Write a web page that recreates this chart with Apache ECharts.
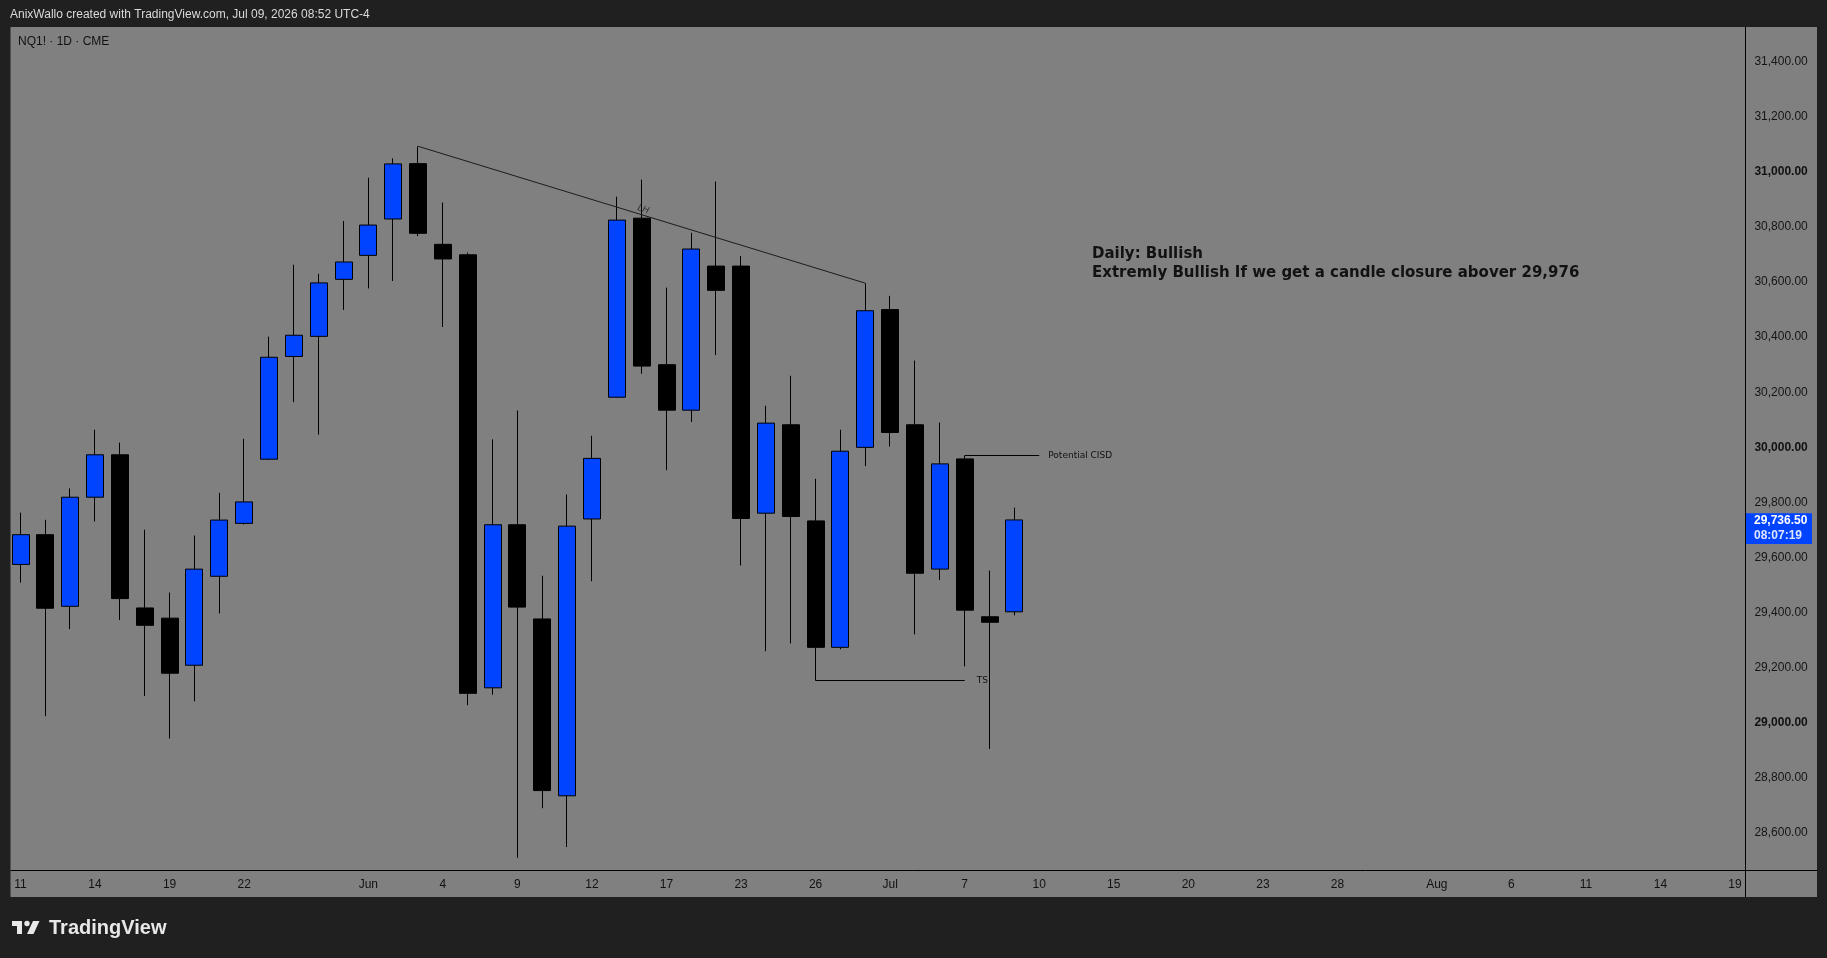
<!DOCTYPE html>
<html><head><meta charset="utf-8">
<script src="https://cdn.jsdelivr.net/npm/echarts@6/dist/echarts.min.js"></script>
<style>html,body{margin:0;padding:0;background:#202020;overflow:hidden}#c{width:1827px;height:958px}</style>
</head><body><div id="c"></div>
<script>
// ---- categories (trading days, incl. future empty days on the axis)
const dates = [
 '2026-05-11','2026-05-12','2026-05-13','2026-05-14','2026-05-15','2026-05-18','2026-05-19','2026-05-20','2026-05-21','2026-05-22',
 '2026-05-26','2026-05-27','2026-05-28','2026-05-29','2026-06-01','2026-06-02','2026-06-03','2026-06-04','2026-06-05','2026-06-08',
 '2026-06-09','2026-06-10','2026-06-11','2026-06-12','2026-06-15','2026-06-16','2026-06-17','2026-06-18','2026-06-22','2026-06-23',
 '2026-06-24','2026-06-25','2026-06-26','2026-06-29','2026-06-30','2026-07-01','2026-07-02','2026-07-06','2026-07-07','2026-07-08',
 '2026-07-09','2026-07-10','2026-07-13','2026-07-14','2026-07-15','2026-07-16','2026-07-17','2026-07-20','2026-07-21','2026-07-22',
 '2026-07-23','2026-07-24','2026-07-27','2026-07-28','2026-07-29','2026-07-30','2026-07-31','2026-08-03','2026-08-04','2026-08-05',
 '2026-08-06','2026-08-07','2026-08-10','2026-08-11','2026-08-12','2026-08-13','2026-08-14','2026-08-17','2026-08-18','2026-08-19'
];
// ---- OHLC series (NQ1! daily)
const opens  = [29575,29683,29423,29819,29973,29417,29380,29209,29532,29724,29957,30330,30403,30610,30697,30829,31030,30737,30699,29127,29719,29377,28735,29740,30182,30832,30300,30135,30658,30658,29761,30082,29733,29274,30000,30500,30082,29558,29958,29385,29403];
const highs  = [29763,29737,29851,30064,30017,29701,29473,29680,29835,30031,30402,30663,30630,30822,30979,31049,31093,30889,30707,30029,30134,29534,29829,30042,30910,30972,30580,30779,30965,30695,30151,30260,29886,30064,30596,30550,30315,30090,29970,29553,29781];
const lows   = [29509,29024,29340,29731,29373,29097,28943,29078,29397,29720,29955,30164,30046,30499,30577,30604,30767,30437,29064,29102,28510,28690,28549,29514,30180,30267,29917,30092,30335,29571,29260,29288,29153,29267,29932,30003,29321,29518,29205,28905,29390];
const closes = [29683,29416,29819,29973,29451,29354,29180,29558,29736,29802,30327,30407,30597,30673,30807,31029,30777,30684,29107,29719,29420,28754,29714,29960,30825,30295,30135,30720,30570,29742,30088,29749,29274,29986,30496,30054,29543,29940,29409,29365,29736.5];
// ---- tick labels
const xTickDates = ['2026-05-11','2026-05-14','2026-05-19','2026-05-22','2026-06-01','2026-06-04','2026-06-09','2026-06-12','2026-06-17','2026-06-23','2026-06-26','2026-07-01','2026-07-07','2026-07-10','2026-07-15','2026-07-20','2026-07-23','2026-07-28','2026-08-03','2026-08-06','2026-08-11','2026-08-14','2026-08-19'];
const xTickTexts = ['11','14','19','22','Jun','4','9','12','17','23','26','Jul','7','10','15','20','23','28','Aug','6','11','14','19'];
const priceTicks = [28600,28800,29000,29200,29400,29600,29800,30000,30200,30400,30600,30800,31000,31200,31400];
// ---- drawings
const trendStart = ['2026-06-03', 31093];
const trendEnd   = ['2026-06-30', 30596];
const trendText  = 'LH';
const tsLine     = ['2026-06-26', '2026-07-07', 29153];
const tsText     = 'TS';
const cisdLine   = ['2026-07-07', '2026-07-10', 29970];
const cisdText   = 'Potential CISD';
const noteLines  = ['Daily: Bullish', 'Extremly Bullish If we get a candle closure abover 29,976'];
const headerText = 'AnixWallo created with TradingView.com, Jul 09, 2026 08:52 UTC-4';
const symbolText = 'NQ1! \u00b7 1D \u00b7 CME';
const countdownText = '08:07:19';

const UI = 'Liberation Sans, Arial, sans-serif';
const BLUE = '#0044ff';
const fmtPrice = v => v.toLocaleString('en-US', {minimumFractionDigits: 2, maximumFractionDigits: 2});
const tickMap = {};
xTickDates.forEach((d, i) => { tickMap[d] = xTickTexts[i]; });
const candles = opens.map((o, i) => [o, closes[i], lows[i], highs[i]]);

const chart = echarts.init(document.getElementById('c'), null, {width: 1827, height: 958});

function frameElements() {
  return [
    {type: 'rect', z: 100, silent: true, shape: {x: 0, y: 0, width: 1827, height: 27}, style: {fill: '#202020'}},
    {type: 'rect', z: 100, silent: true, shape: {x: 0, y: 0, width: 10.5, height: 958}, style: {fill: '#202020'}},
    {type: 'rect', z: 100, silent: true, shape: {x: 1817, y: 0, width: 10, height: 958}, style: {fill: '#202020'}},
    {type: 'rect', z: 100, silent: true, shape: {x: 0, y: 897, width: 1827, height: 61}, style: {fill: '#202020'}},
    {type: 'line', z: 100, silent: true, shape: {x1: 10.5, y1: 870.5, x2: 1817, y2: 870.5}, style: {stroke: '#000', lineWidth: 1}},
    {type: 'line', z: 100, silent: true, shape: {x1: 1745.5, y1: 27, x2: 1745.5, y2: 897}, style: {stroke: '#000', lineWidth: 1}},
    {type: 'text', z: 101, silent: true, x: 10, y: 15, style: {text: headerText, fill: '#dadada', font: '12px ' + UI, verticalAlign: 'middle'}},
    {type: 'text', z: 101, silent: true, x: 18, y: 42, style: {text: symbolText, fill: '#111', font: '12px ' + UI, verticalAlign: 'middle'}},
    {type: 'text', z: 101, silent: true, x: 1092, y: 244, style: {text: noteLines.join('\n'), fill: '#121212', font: 'bold 15px DejaVu Sans', lineHeight: 19.5, verticalAlign: 'top'}},
    // TradingView logo
    {type: 'polygon', z: 101, silent: true, shape: {points: [[12,921],[22,921],[22,934],[17,934],[17,926],[12,926]]}, style: {fill: '#e8e8e8'}},
    {type: 'circle', z: 101, silent: true, shape: {cx: 27, cy: 923.5, r: 2.7}, style: {fill: '#e8e8e8'}},
    {type: 'polygon', z: 101, silent: true, shape: {points: [[33,921],[39.5,921],[33.5,934],[27,934]]}, style: {fill: '#e8e8e8'}},
    {type: 'text', z: 101, silent: true, x: 49, y: 928, style: {text: 'TradingView', fill: '#e8e8e8', font: 'bold 20px ' + UI, verticalAlign: 'middle'}}
  ];
}

chart.setOption({
  animation: false,
  backgroundColor: '#808080',
  grid: {left: 8.08, right: 79.6, top: 27, bottom: 87.7, containLabel: false},
  xAxis: {
    type: 'category', data: dates, boundaryGap: true,
    axisLine: {show: false}, axisTick: {show: false}, splitLine: {show: false},
    axisLabel: {
      interval: (idx, val) => tickMap[val] !== undefined,
      formatter: (val) => tickMap[val] || '',
      color: '#111', fontFamily: UI, fontSize: 12, margin: 8
    }
  },
  yAxis: {
    type: 'value', position: 'right', scale: true,
    min: 28464.6, max: 31526,
    axisLine: {show: false}, axisTick: {show: false}, splitLine: {show: false},
    axisLabel: {
      customValues: priceTicks,
      formatter: v => (v % 1000 === 0 ? '{b|' + fmtPrice(v) + '}' : fmtPrice(v)),
      rich: {b: {fontWeight: 'bold', color: '#111', fontFamily: UI, fontSize: 12}},
      color: '#151515', fontFamily: UI, fontSize: 12, margin: 7, align: 'left'
    }
  },
  series: [{
    type: 'candlestick',
    data: candles,
    barWidth: 17.5,
    itemStyle: {color: BLUE, color0: '#000', borderColor: '#000', borderColor0: '#000', borderWidth: 1},
    markLine: {
      silent: true, symbol: ['none', 'none'], animation: false,
      data: [
        [{coord: trendStart, lineStyle: {color: '#1c1c1c', width: 1, type: 'solid'},
          label: {show: true, position: 'middle', formatter: trendText, color: '#333', fontSize: 9, fontFamily: 'DejaVu Sans', fontStyle: 'italic', distance: 1}},
         {coord: trendEnd}],
        [{coord: [tsLine[0], tsLine[2]], lineStyle: {color: '#000', width: 1, type: 'solid'},
          label: {show: true, position: 'end', formatter: tsText, color: '#111', fontSize: 9, fontFamily: 'DejaVu Sans', distance: 12}},
         {coord: [tsLine[1], tsLine[2]]}],
        [{coord: [cisdLine[0], cisdLine[2]], lineStyle: {color: '#000', width: 1, type: 'solid'},
          label: {show: true, position: 'end', formatter: cisdText, color: '#111', fontSize: 9, fontFamily: 'DejaVu Sans', distance: 9}},
         {coord: [cisdLine[1], cisdLine[2]]}]
      ]
    }
  }],
  graphic: {elements: frameElements()}
});

// current price badge on the price scale, placed through the chart's own y scale
const last = closes[closes.length - 1];
const py = chart.convertToPixel({yAxisIndex: 0}, last);
const els = frameElements();
els.push(
  {type: 'rect', z: 102, silent: true, shape: {x: 1746, y: py - 6.6, width: 66, height: 30.6}, style: {fill: BLUE}},
  {type: 'text', z: 103, silent: true, x: 1754, y: py + 0.5, style: {text: fmtPrice(last), fill: '#fff', font: 'bold 12px ' + UI, verticalAlign: 'middle'}},
  {type: 'text', z: 103, silent: true, x: 1754, y: py + 15.5, style: {text: countdownText, fill: '#dfe6ff', font: 'bold 12px ' + UI, verticalAlign: 'middle'}}
);
chart.setOption({graphic: {elements: els}});
</script>
</body></html>
